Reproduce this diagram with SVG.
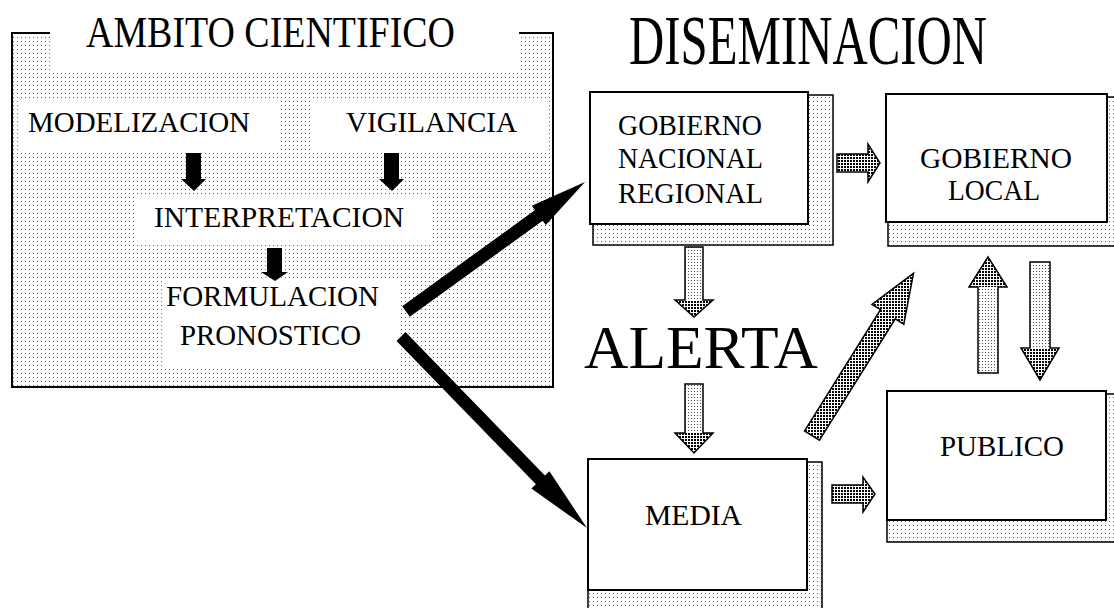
<svg xmlns="http://www.w3.org/2000/svg" width="1114" height="608" viewBox="0 0 1114 608">
  <defs>
    <pattern id="dots" width="4" height="4" patternUnits="userSpaceOnUse">
      <rect width="4" height="4" fill="#fff"/>
      <rect x="1" y="1" width="1" height="1" fill="#666"/>
    </pattern>
    <pattern id="dense" width="3" height="3" patternUnits="userSpaceOnUse">
      <rect width="3" height="3" fill="#fff"/>
      <rect x="1" y="1" width="2" height="2" fill="#000"/>
    </pattern>
    <pattern id="light" width="3" height="3" patternUnits="userSpaceOnUse">
      <rect width="3" height="3" fill="#fff"/>
      <rect x="1" y="1" width="1" height="1" fill="#555"/>
    </pattern>
  </defs>
  <style>
    .t { font-family: "Liberation Serif", "Times New Roman", serif; fill: #000; }
    .box { fill: #fff; stroke: #000; stroke-width: 2; }
    .shadow { fill: url(#dots); stroke: #000; stroke-width: 1.5; }
    .white { fill: #fff; }
    .blk { fill: #000; }
    .hol { fill: url(#dense); stroke: #000; stroke-width: 1.5; }
    .holbody { fill: url(#light); }
    .holhead { fill: url(#dense); }
    .outline { fill: none; stroke: #000; stroke-width: 1.5; stroke-linejoin: miter; }
  </style>
  <rect width="1114" height="608" fill="#fff"/>

  <g id="ambito-cientifico">
    <polygon points="12,33 50,33 50,72 519,72 519,33 553,33 553,387 12,387" fill="url(#dots)"/>
    <path d="M50,33 H12 V387 H553 V33 H519" fill="none" stroke="#000" stroke-width="2"/>
    <text class="t" x="86" y="47" font-size="44" textLength="369" lengthAdjust="spacingAndGlyphs">AMBITO CIENTIFICO</text>
  </g>

  <g id="modelizacion">
    <rect class="white" x="18" y="101" width="262" height="49"/>
    <text class="t" x="28" y="132" font-size="29" textLength="222" lengthAdjust="spacingAndGlyphs">MODELIZACION</text>
  </g>
  <g id="vigilancia">
    <rect class="white" x="313" y="101" width="235" height="49"/>
    <text class="t" x="346" y="132" font-size="29" textLength="171" lengthAdjust="spacingAndGlyphs">VIGILANCIA</text>
  </g>
  <g id="interpretacion">
    <rect class="white" x="134" y="195" width="298" height="50"/>
    <text class="t" x="154" y="227" font-size="30" textLength="250" lengthAdjust="spacingAndGlyphs">INTERPRETACION</text>
  </g>
  <g id="formulacion">
    <rect class="white" x="162" y="281" width="238" height="85"/>
    <text class="t" x="166" y="306" font-size="30" textLength="213" lengthAdjust="spacingAndGlyphs">FORMULACION</text>
    <text class="t" x="180" y="345" font-size="30" textLength="181" lengthAdjust="spacingAndGlyphs">PRONOSTICO</text>
  </g>

  <g id="diseminacion-title">
    <text class="t" x="629" y="63.5" font-size="70" textLength="358" lengthAdjust="spacingAndGlyphs">DISEMINACION</text>
  </g>

  <g id="gobierno-nacional">
    <rect class="shadow" x="593" y="95" width="240" height="150"/>
    <rect class="box" x="590" y="92" width="218" height="132"/>
    <text class="t" x="618" y="135" font-size="30" textLength="144" lengthAdjust="spacingAndGlyphs">GOBIERNO</text>
    <text class="t" x="618" y="168" font-size="30" textLength="145" lengthAdjust="spacingAndGlyphs">NACIONAL</text>
    <text class="t" x="618" y="203" font-size="30" textLength="145" lengthAdjust="spacingAndGlyphs">REGIONAL</text>
  </g>

  <g id="gobierno-local">
    <rect class="shadow" x="888" y="97" width="230" height="149"/>
    <rect class="box" x="886" y="94" width="221" height="128"/>
    <text class="t" x="920" y="168" font-size="30" textLength="152" lengthAdjust="spacingAndGlyphs">GOBIERNO</text>
    <text class="t" x="948" y="200" font-size="30" textLength="92" lengthAdjust="spacingAndGlyphs">LOCAL</text>
  </g>

  <g id="alerta">
    <text class="t" x="584" y="368" font-size="62" textLength="234" lengthAdjust="spacingAndGlyphs">ALERTA</text>
  </g>

  <g id="publico">
    <rect class="shadow" x="887" y="394" width="231" height="148"/>
    <rect class="box" x="887" y="391" width="219" height="129"/>
    <text class="t" x="940" y="456" font-size="29" textLength="124" lengthAdjust="spacingAndGlyphs">PUBLICO</text>
  </g>

  <g id="media">
    <rect class="shadow" x="588" y="462" width="234" height="150"/>
    <rect class="box" x="588" y="459" width="219" height="131"/>
    <text class="t" x="645" y="525" font-size="30" textLength="97" lengthAdjust="spacingAndGlyphs">MEDIA</text>
  </g>

  <g id="connectors">
    <polygon class="blk" points="186,153 201,153 201,179 206,179 194,191 181,179 186,179"/>
    <polygon class="blk" points="384,153 399,153 399,179 404,179 392,191 379,179 384,179"/>
    <polygon class="blk" points="267,248 282,248 282,272 288,272 275,281 261,272 267,272"/>

    <polygon class="blk" points="402.2,306.2 535,210.1 531.8,205.7 585,182 545.8,225.1 542.6,220.7 409.8,316.8"/>
    <polygon class="blk" points="405.5,332.1 544.9,475.5 549.4,471.2 587,528 531.4,488.6 535.9,484.3 396.5,340.9"/>

    <polygon class="hol" points="837,154 868,154 868,144 880,163 868,182 868,172 837,172"/>
    <polygon class="hol" points="832,485 863,485 863,477 875,494 863,512 863,503 832,503"/>

    <rect class="holbody" x="685" y="247" width="18" height="53"/>
    <polygon class="holhead" points="675,300 713,300 694,317"/>
    <polygon class="outline" points="685,247 703,247 703,300 713,300 694,317 675,300 685,300"/>

    <rect class="holbody" x="685" y="384" width="18" height="49"/>
    <polygon class="holhead" points="675,433 713,433 694,453"/>
    <polygon class="outline" points="685,384 703,384 703,433 713,433 694,453 675,433 685,433"/>

    <polygon class="hol" points="804.6,430.9 880.5,309.7 872,304.4 913.5,273.3 903.8,324.2 895.3,318.9 819.4,440.1"/>

    <rect class="holbody" x="978" y="287" width="20" height="86"/>
    <polygon class="holhead" points="969,287 1007,287 988,257"/>
    <polygon class="outline" points="978,373 998,373 998,287 1007,287 988,257 969,287 978,287"/>

    <rect class="holbody" x="1030" y="262" width="20" height="86"/>
    <polygon class="holhead" points="1021,348 1059,348 1040,380"/>
    <polygon class="outline" points="1030,262 1050,262 1050,348 1059,348 1040,380 1021,348 1030,348"/>
  </g>
</svg>
